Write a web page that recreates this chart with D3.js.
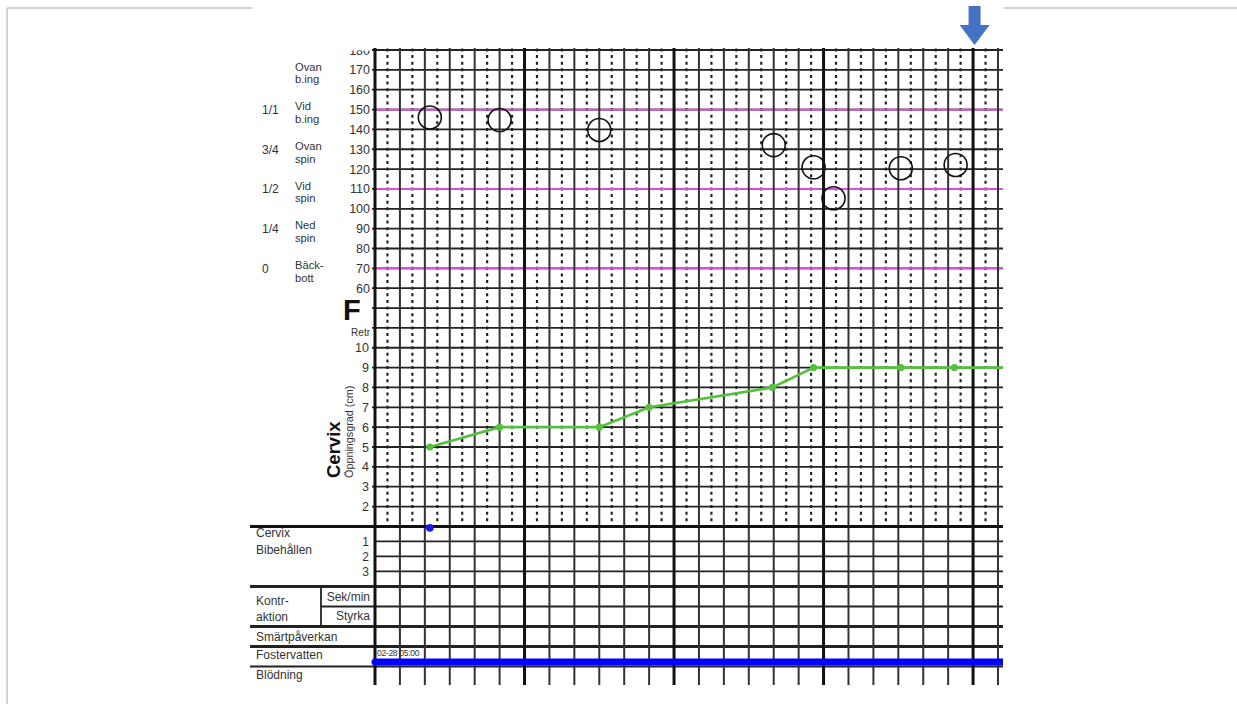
<!DOCTYPE html>
<html><head><meta charset="utf-8">
<script src="https://cdn.jsdelivr.net/npm/d3@7"></script>
<style>
body{margin:0;background:#fff;}
svg{display:block;}
text{font-family:"Liberation Sans",Arial,sans-serif;fill:#333;}
</style>
</head><body>
<svg id="c" width="1237" height="704"></svg>
<script>
// ---------- data ----------
const stationTicks = [180,170,160,150,140,130,120,110,100,90,80,70,60];
const cervixTicks = [10,9,8,7,6,5,4,3,2];
const stationLevelValues = [170,150,130,110,90,70];
const stationFractions = ["", "1/1", "3/4", "1/2", "1/4", "0"];
const stationWordsTop = ["Ovan","Vid","Ovan","Vid","Ned","Bäck-"];
const stationWordsBottom = ["b.ing","b.ing","spin","spin","spin","bott"];
const referenceLevels = [150,110,70];

// time in grid columns from 02-28 05:00
const descentTime  = [2.2, 5.0, 9.0, 16.0, 17.6, 18.4, 21.1, 23.3];
const descentValue = [146, 144.7, 139.7, 132.1, 120.9, 105.3, 120.4, 122.1];

const cervixTime  = [2.2, 5.0, 9.0, 11.0, 15.95, 17.6, 21.1, 23.25];
const cervixValue = [5, 6, 6, 7, 8, 9, 9, 9];

const retainedTime = [2.2];
const retainedValue = [0];
const retainedTicks = [1,2,3];

const membraneStart = 0;
const membraneLabel = "02-28 05:00";
const nowTime = 24;
const chartEnd = 25.2;
const columnCount = 25;

// ---------- scales ----------
const svg = d3.select("#c");
const x = d3.scaleLinear().domain([0, columnCount]).range([375, 998]);
const pitch = 19.85, top0 = 50;
const yStation = d3.scaleLinear().domain([180, 60]).range([top0, top0 + 12*pitch]);
const yCervix  = d3.scaleLinear().domain([10, 1]).range([top0 + 15*pitch, top0 + 24*pitch]);
const yRetained = d3.scaleLinear().domain([0, 3]).range([top0 + 24*pitch, top0 + 24*pitch + 45]);
const bottomY = yCervix(1);
const rightEdge = 1003;

// frame
const frame = svg.append("g").attr("stroke", "#d4d4d4").attr("stroke-width", 2);
frame.append("line").attr("x1", 7).attr("x2", 252).attr("y1", 8).attr("y2", 8);
frame.append("line").attr("x1", 1003).attr("x2", 1237).attr("y1", 8).attr("y2", 8);
frame.append("line").attr("x1", 7).attr("x2", 7).attr("y1", 8).attr("y2", 704);

svg.append("clipPath").attr("id", "clip").append("rect")
  .attr("x", 0).attr("y", 48).attr("width", 1237).attr("height", 660);
svg.append("clipPath").attr("id", "clipT").append("rect")
  .attr("x", 0).attr("y", 50.5).attr("width", 1237).attr("height", 660);
const g = svg.append("g").attr("clip-path", "url(#clip)");

// ---------- grid ----------
// dotted mid-column lines
g.append("g").selectAll("line").data(d3.range(columnCount)).join("line")
  .attr("x1", d => x(d + 0.5)).attr("x2", d => x(d + 0.5))
  .attr("y1", top0 - 1.5).attr("y2", bottomY)
  .attr("stroke", "#222").attr("stroke-width", 2.2).attr("stroke-dasharray", "3," + (pitch/3 - 3));

// horizontal rows
g.append("g").selectAll("line").data(d3.range(24)).join("line")
  .attr("x1", 372).attr("x2", rightEdge)
  .attr("y1", d => top0 + d*pitch).attr("y2", d => top0 + d*pitch)
  .attr("stroke", "#222").attr("stroke-width", 1.8);

// magenta reference levels
g.append("g").selectAll("line").data(referenceLevels).join("line")
  .attr("x1", 375).attr("x2", rightEdge)
  .attr("y1", d => yStation(d)).attr("y2", d => yStation(d))
  .attr("stroke", "#d651d6").attr("stroke-width", 2);

// table lines
const tableLines = [
  {y: yRetained(1), x1: 375, w: 1.8}, {y: yRetained(2), x1: 375, w: 1.8}, {y: yRetained(3), x1: 375, w: 1.8},
  {y: 586.5, x1: 250, w: 2.8}, {y: 606.5, x1: 321, w: 1.8}, {y: 626.5, x1: 250, w: 2.8},
  {y: 646.5, x1: 250, w: 2.8}, {y: 666.5, x1: 250, w: 1.8}
];
g.append("g").selectAll("line").data(tableLines).join("line")
  .attr("x1", d => d.x1).attr("x2", rightEdge).attr("y1", d => d.y).attr("y2", d => d.y)
  .attr("stroke", "#222").attr("stroke-width", d => d.w);
g.append("line").attr("x1", 321).attr("x2", 321).attr("y1", 586.5).attr("y2", 626.5)
  .attr("stroke", "#222").attr("stroke-width", 1.8);

// vertical columns
g.append("g").selectAll("line").data(d3.range(columnCount + 1)).join("line")
  .attr("x1", d => x(d)).attr("x2", d => x(d))
  .attr("y1", 47).attr("y2", 685)
  .attr("stroke", d => d % 6 === 0 ? "#111" : "#333")
  .attr("stroke-width", d => d % 6 === 0 ? 3 : 2);

// boundary thick line
g.append("line").attr("x1", 250).attr("x2", rightEdge).attr("y1", bottomY).attr("y2", bottomY)
  .attr("stroke", "#111").attr("stroke-width", 3);

// ---------- axis labels ----------
const lab = svg.append("g").attr("clip-path", "url(#clipT)");
lab.selectAll("text.st").data(stationTicks).join("text").attr("class", "st")
  .attr("x", 370).attr("y", d => yStation(d) + 4.5).attr("text-anchor", "end")
  .attr("font-size", 12.5).text(d => d);
lab.selectAll("text.cx").data(cervixTicks).join("text").attr("class", "cx")
  .attr("x", 369).attr("y", d => yCervix(d) + 4.5).attr("text-anchor", "end")
  .attr("font-size", 12.5).text(d => d);

svg.append("text").attr("x", 343).attr("y", yStation(60) + 32).attr("font-size", 29)
  .attr("font-weight", "bold").style("fill", "#111").text("F");
svg.append("text").attr("x", 370).attr("y", yStation(60) + 47.5).attr("text-anchor", "end")
  .attr("font-size", 10).text("Retr");

svg.append("text").attr("transform", "translate(340,478) rotate(-90)")
  .attr("font-size", 18.5).attr("font-weight", "bold").style("fill", "#111").text("Cervix");
svg.append("text").attr("transform", "translate(353,478) rotate(-90)")
  .attr("font-size", 10.8).text("Öppningsgrad (cm)");

// station level labels
const lv = svg.append("g");
stationLevelValues.forEach((v, i) => {
  const y = yStation(v);
  if (stationFractions[i]) {
    lv.append("text").attr("x", 262).attr("y", y + 4.5).attr("font-size", 12).text(stationFractions[i]);
  }
  lv.append("text").attr("x", 295).attr("y", y + 0.8).attr("font-size", 11.2).text(stationWordsTop[i]);
  lv.append("text").attr("x", 295).attr("y", y + 13.5).attr("font-size", 11.2).text(stationWordsBottom[i]);
});

// table labels
const tl = [
  {t: "Cervix", x: 256, y: 537}, {t: "Bibehållen", x: 256, y: 554},
  {t: "Kontr-", x: 256, y: 605}, {t: "aktion", x: 256, y: 621},
  {t: "Smärtpåverkan", x: 256, y: 641}, {t: "Fostervatten", x: 256, y: 659},
  {t: "Blödning", x: 256, y: 679}
];
svg.append("g").selectAll("text").data(tl).join("text")
  .attr("x", d => d.x).attr("y", d => d.y).attr("font-size", 12).text(d => d.t);
svg.append("text").attr("x", 370).attr("y", 601).attr("text-anchor", "end").attr("font-size", 12).text("Sek/min");
svg.append("text").attr("x", 370).attr("y", 620).attr("text-anchor", "end").attr("font-size", 12).text("Styrka");
svg.append("g").selectAll("text").data(retainedTicks).join("text")
  .attr("x", 369).attr("y", d => yRetained(d) + 4.5).attr("text-anchor", "end")
  .attr("font-size", 12).text(d => d);

// ---------- marks ----------
// descent circles
svg.append("g").selectAll("circle").data(descentTime.map((t, i) => [t, descentValue[i]])).join("circle")
  .attr("cx", d => x(d[0])).attr("cy", d => yStation(d[1])).attr("r", 11.5)
  .attr("fill", "none").attr("stroke", "#111").attr("stroke-width", 1.6);

// cervix dilation
const cervixPts = cervixTime.map((t, i) => [t, cervixValue[i]]);
const linePts = cervixPts.concat([[chartEnd, cervixValue[cervixValue.length - 1]]]);
svg.append("path").datum(linePts)
  .attr("d", d3.line().x(d => x(d[0])).y(d => yCervix(d[1])))
  .attr("fill", "none").attr("stroke", "#55c13f").attr("stroke-width", 2.6);
svg.append("g").selectAll("circle").data(cervixPts).join("circle")
  .attr("cx", d => x(d[0])).attr("cy", d => yCervix(d[1])).attr("r", 3.6)
  .attr("fill", "#55c13f");

// cervix retained
svg.append("g").selectAll("circle").data(retainedTime.map((t, i) => [t, retainedValue[i]])).join("circle")
  .attr("cx", d => x(d[0])).attr("cy", d => yRetained(d[1]) + 1.5).attr("r", 3.8)
  .attr("fill", "#1a1aee");

// amniotic fluid bar
svg.append("line").attr("x1", x(membraneStart)).attr("x2", x(chartEnd))
  .attr("y1", 662).attr("y2", 662).attr("stroke", "#0000ff").attr("stroke-width", 7)
  .attr("stroke-linecap", "butt");
svg.append("circle").attr("cx", x(membraneStart)).attr("cy", 662).attr("r", 3.5).attr("fill", "#0000ff");
svg.append("text").attr("x", x(membraneStart) + 2).attr("y", 656).attr("font-size", 8.5)
  .attr("letter-spacing", -0.3).text(membraneLabel);

// current-time arrow
const ax = x(nowTime) + 1.5;
svg.append("path")
  .attr("d", `M${ax-6},6 L${ax+6},6 L${ax+6},25 L${ax+15},25 L${ax},45 L${ax-15},25 L${ax-6},25 Z`)
  .attr("fill", "#4472c4");
</script>
</body></html>
